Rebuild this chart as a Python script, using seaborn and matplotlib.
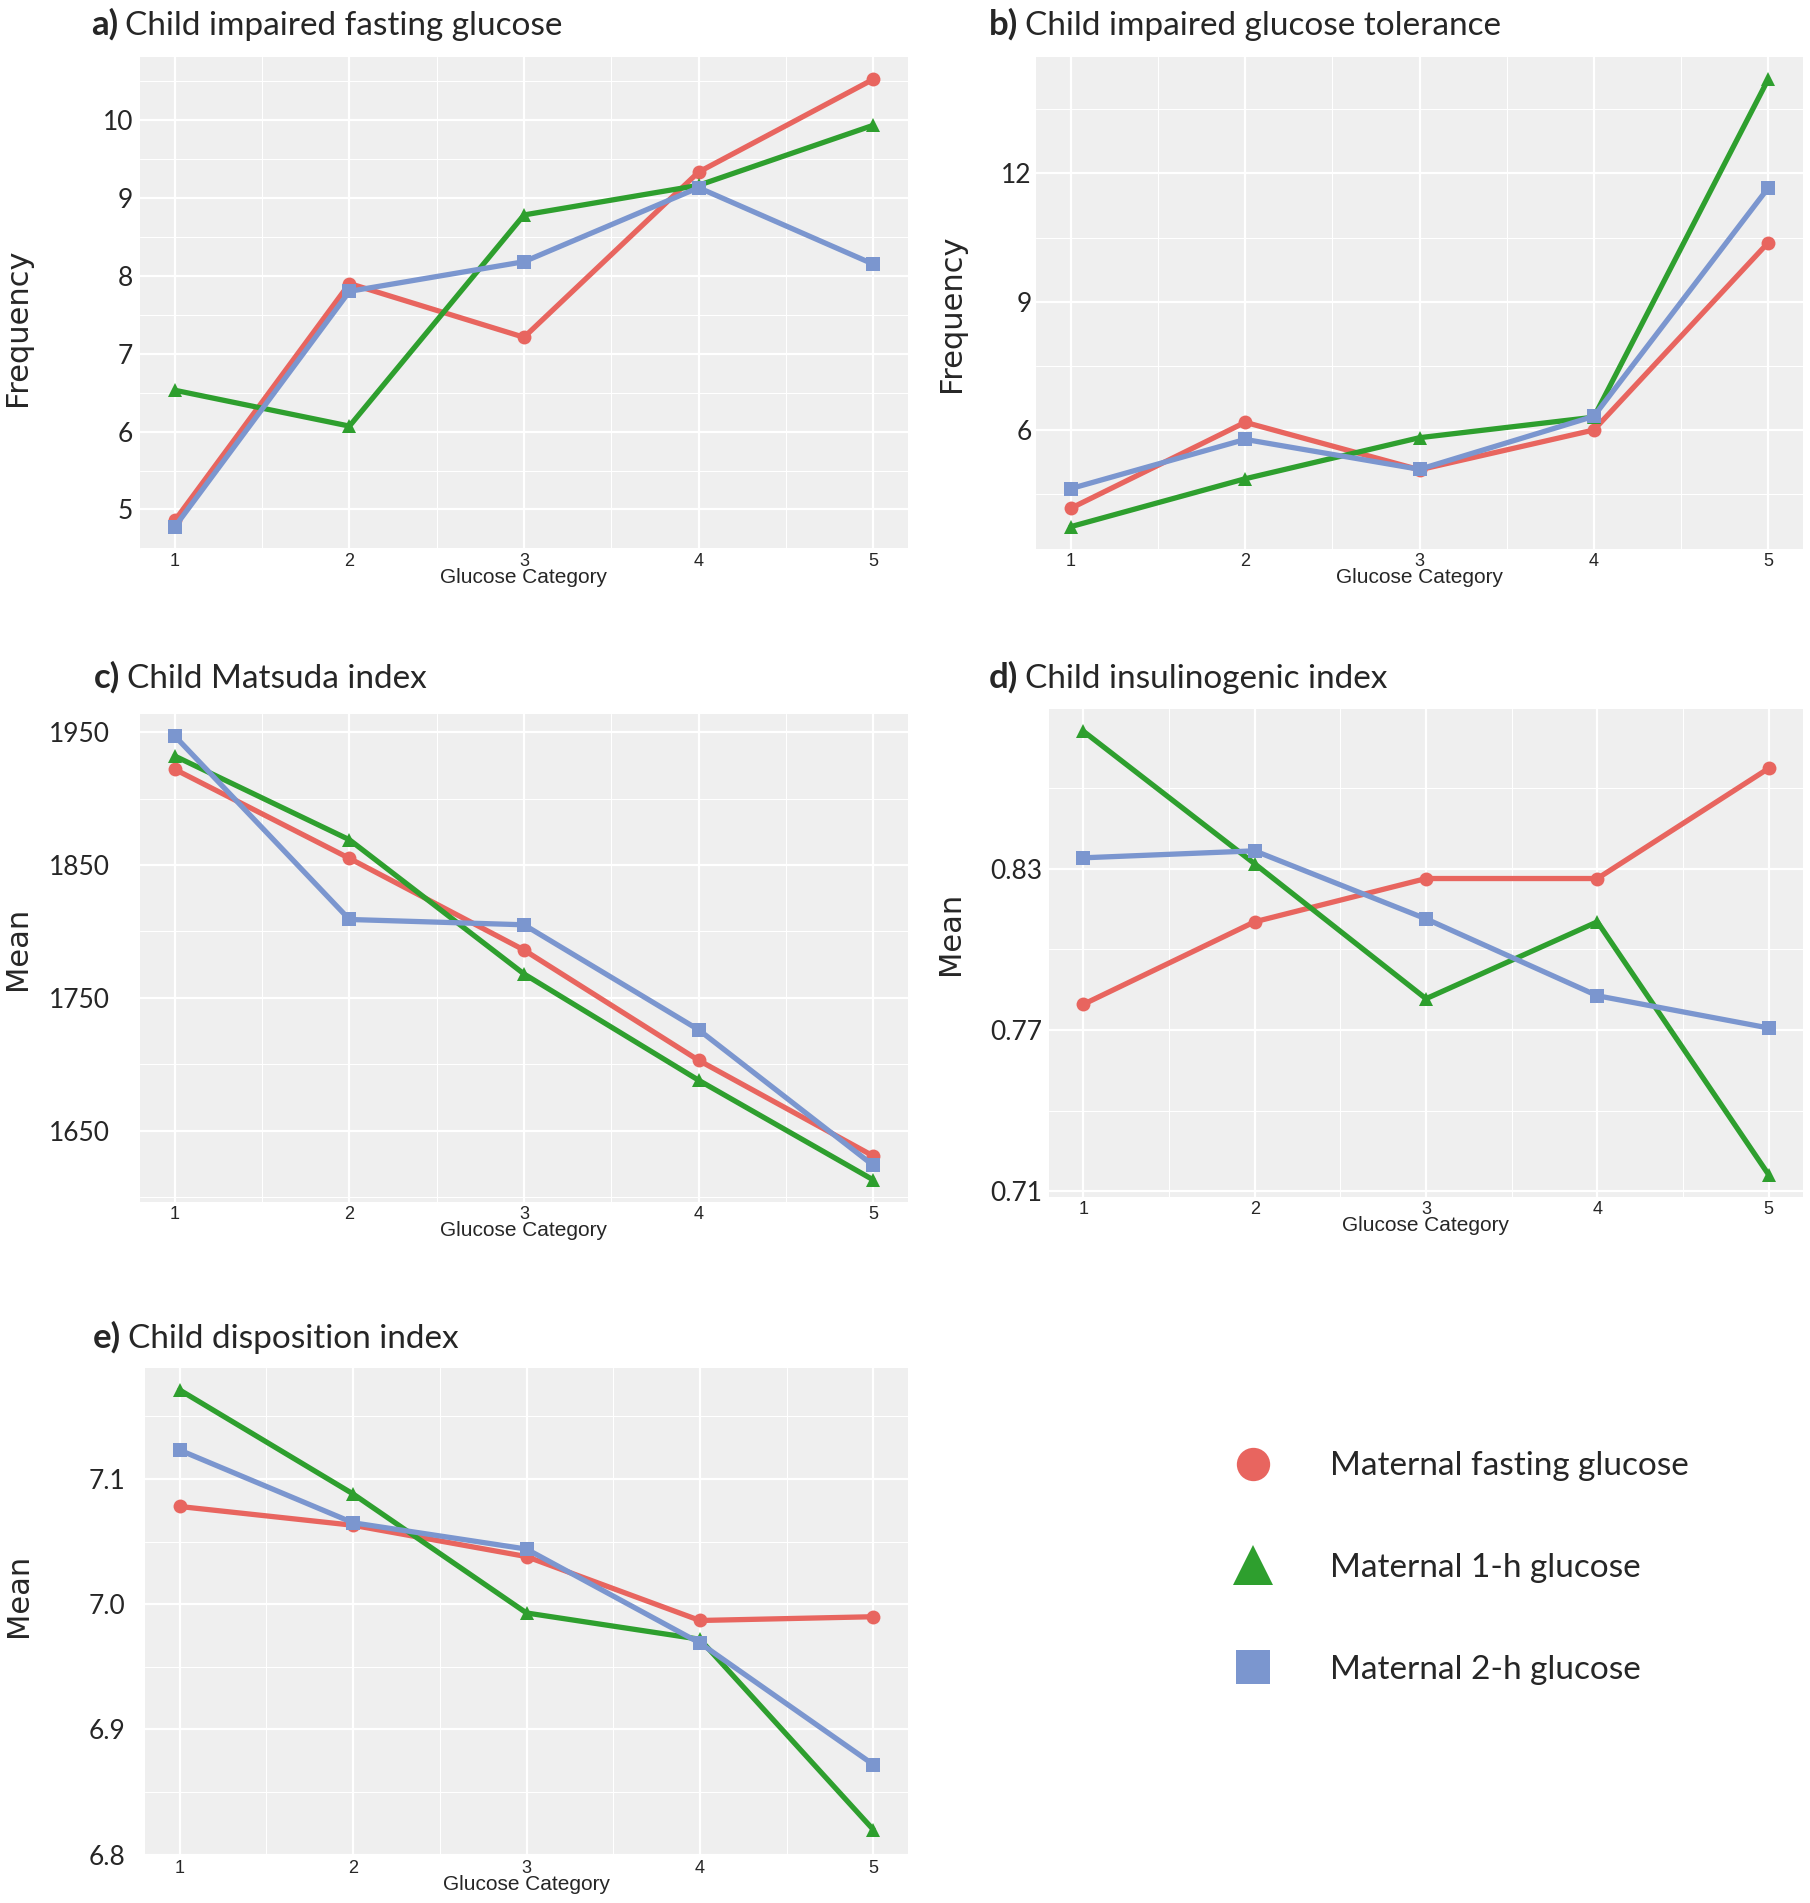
import numpy as np
import pandas as pd
import matplotlib
matplotlib.use('Agg')
import matplotlib.pyplot as plt
import seaborn as sns
from matplotlib.lines import Line2D
from matplotlib.ticker import FixedLocator

# ---------------- data ----------------
categories = [1, 2, 3, 4, 5]
series_names = ['Maternal fasting glucose', 'Maternal 1-h glucose', 'Maternal 2-h glucose']

ifg_fasting = [4.86, 7.90, 7.21, 9.33, 10.52]
ifg_1h = [6.53, 6.07, 8.78, 9.16, 9.93]
ifg_2h = [4.78, 7.80, 8.18, 9.13, 8.15]

igt_fasting = [4.17, 6.18, 5.07, 6.00, 10.38]
igt_1h = [3.74, 4.86, 5.82, 6.30, 14.20]
igt_2h = [4.63, 5.78, 5.08, 6.32, 11.66]

matsuda_fasting = [1922, 1855, 1786, 1703, 1631]
matsuda_1h = [1932, 1869, 1768, 1688, 1613]
matsuda_2h = [1947, 1809, 1805, 1726, 1624]

insulino_fasting = [0.7795, 0.8102, 0.8263, 0.8263, 0.8673]
insulino_1h = [0.8811, 0.8318, 0.7816, 0.8102, 0.7161]
insulino_2h = [0.8340, 0.8366, 0.8113, 0.7827, 0.7707]

disp_fasting = [7.078, 7.063, 7.038, 6.987, 6.990]
disp_1h = [7.171, 7.088, 6.993, 6.972, 6.820]
disp_2h = [7.123, 7.065, 7.044, 6.969, 6.872]

titles = ['Child impaired fasting glucose', 'Child impaired glucose tolerance',
          'Child Matsuda index', 'Child insulinogenic index', 'Child disposition index']
letters = ['a)', 'b)', 'c)', 'd)', 'e)']
ylabels = ['Frequency', 'Frequency', 'Mean', 'Mean', 'Mean']
xlabel = 'Glucose Category'

yticks_major = [[5, 6, 7, 8, 9, 10], [6, 9, 12], [1650, 1750, 1850, 1950],
                [0.71, 0.77, 0.83], [6.8, 6.9, 7.0, 7.1]]
yticklabels = [['5', '6', '7', '8', '9', '10'], ['6', '9', '12'],
               ['1650', '1750', '1850', '1950'], ['0.71', '0.77', '0.83'],
               ['6.8', '6.9', '7.0', '7.1']]
yticks_minor = [[4.5, 5.5, 6.5, 7.5, 8.5, 9.5, 10.5], [4.5, 7.5, 10.5, 13.5],
                [1600, 1700, 1800, 1900], [0.74, 0.80, 0.86],
                [6.85, 6.95, 7.05, 7.15]]

panels = [(ifg_fasting, ifg_1h, ifg_2h), (igt_fasting, igt_1h, igt_2h),
          (matsuda_fasting, matsuda_1h, matsuda_2h),
          (insulino_fasting, insulino_1h, insulino_2h),
          (disp_fasting, disp_1h, disp_2h)]

colors = {'Maternal fasting glucose': '#E8655F',
          'Maternal 1-h glucose': '#2E9F2E',
          'Maternal 2-h glucose': '#7B96CF'}
markers = {'Maternal fasting glucose': 'o',
           'Maternal 1-h glucose': '^',
           'Maternal 2-h glucose': 's'}

# ---------------- layout (pixels in 1810x1903) ----------------
W, H = 1810, 1903
boxes = [(140, 57, 908, 549), (1036, 57, 1803, 549), (140, 714, 908, 1202),
         (1049, 709, 1803, 1197), (145, 1368, 908, 1856)]
title_pos = [(91, 35), (989, 35), (94, 688), (989, 688), (93, 1348)]
ylabel_x = [18, 951, 18, 951, 18]
ylabel_yfrac = [0.45, 0.48, 0.52, 0.54, 0.535]
ytick_pad = [5, 3, 22, 5, 14]

sns.set_style('white')
plt.rcParams['font.family'] = ['Lato', 'DejaVu Sans']

fig = plt.figure(figsize=(W / 100, H / 100), dpi=100)
fig.patch.set_facecolor('white')

for i, (vals, box) in enumerate(zip(panels, boxes)):
    x0, y0, x1, y1 = box
    ax = fig.add_axes([x0 / W, 1 - y1 / H, (x1 - x0) / W, (y1 - y0) / H])
    df = pd.DataFrame({
        'cat': categories * 3,
        'value': list(vals[0]) + list(vals[1]) + list(vals[2]),
        'series': sum([[s] * len(categories) for s in series_names], []),
    })
    sns.lineplot(data=df, x='cat', y='value', hue='series', style='series',
                 hue_order=series_names, style_order=series_names,
                 palette=colors, markers=markers, dashes=False,
                 linewidth=3.8, markersize=10, markeredgewidth=0,
                 legend=False, ax=ax)
    ax.margins(x=0.05, y=0.05)
    if i == 4:
        lo, hi = ax.get_ylim()
        ax.set_ylim(6.799, hi)
    ax.set_facecolor('#EFEFEF')
    for sp in ax.spines.values():
        sp.set_visible(False)
    ax.xaxis.set_major_locator(FixedLocator(categories))
    ax.xaxis.set_minor_locator(FixedLocator([1.5, 2.5, 3.5, 4.5]))
    ax.set_xticklabels([str(c) for c in categories], fontfamily='Liberation Sans',
                       fontsize=13)
    ax.yaxis.set_major_locator(FixedLocator(yticks_major[i]))
    ax.yaxis.set_minor_locator(FixedLocator(yticks_minor[i]))
    ax.set_yticklabels(yticklabels[i], fontsize=19)
    ax.grid(which='major', color='white', linewidth=1.6)
    ax.grid(which='minor', color='white', linewidth=0.8)
    ax.set_axisbelow(True)
    ax.tick_params(which='both', length=0)
    ax.tick_params(axis='x', pad=3)
    ax.tick_params(axis='y', pad=ytick_pad[i])
    ax.set_xlabel(xlabel, fontfamily='Liberation Sans', fontsize=15)
    ax.xaxis.set_label_coords(0.5, -19 / (y1 - y0))
    ax.set_ylabel(ylabels[i], fontfamily='DejaVu Sans', fontsize=22)
    ax.yaxis.set_label_coords((ylabel_x[i] - x0) / (x1 - x0), ylabel_yfrac[i])
    ax.yaxis.label.set_va('center')

    tx, ty = title_pos[i]
    t = fig.text(tx / W, 1 - ty / H, letters[i], fontsize=25, fontweight='bold',
                 va='baseline', ha='left')
    fig.add_artist(plt.Annotation(titles[i], xy=(1, 1 - ty / H),
                                  xycoords=(t, 'figure fraction'),
                                  xytext=(5, 0), textcoords='offset points',
                                  fontsize=24, va='baseline', ha='left'))

# ---------------- legend ----------------
handles = [Line2D([], [], linestyle='none', marker=markers[s], color=colors[s],
                  markersize=(29 if markers[s] == '^' else 24), markeredgewidth=0)
           for s in series_names]
fig.legend(handles, series_names, loc='center left',
           bbox_to_anchor=(1237 / W, 1 - 1568 / H), frameon=False,
           fontsize=24, handlelength=0.95, handletextpad=1.85, labelspacing=2.15,
           borderpad=0, borderaxespad=0)

fig.savefig('out.png', dpi=100, facecolor='white')
